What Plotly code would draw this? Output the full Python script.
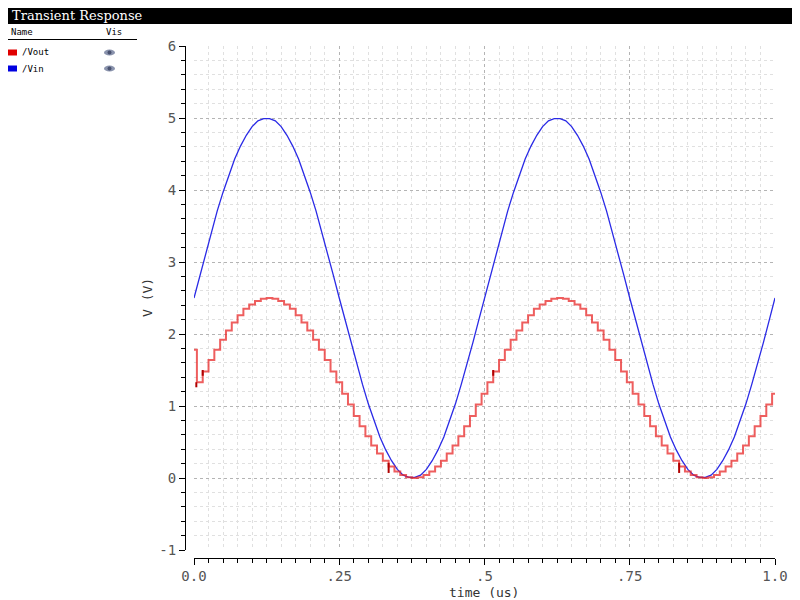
import plotly.graph_objects as go

# The page body has an 8px margin, so the figure is 8px smaller and all
# pixel positions below are converted with that offset.
OFF = 8
W, H = 800 - OFF, 600 - OFF

# ---- data ----
vin_t = [round(0.01 * k, 2) for k in range(101)]
vin_v = [2.50, 2.81, 3.12, 3.42, 3.71, 3.97, 4.21, 4.43, 4.61, 4.76,
         4.88, 4.96, 4.99, 4.99, 4.96, 4.88, 4.76, 4.61, 4.43, 4.21,
         3.97, 3.71, 3.42, 3.12, 2.81, 2.50, 2.19, 1.88, 1.58, 1.30,
         1.03, 0.79, 0.57, 0.39, 0.24, 0.12, 0.04, 0.01, 0.01, 0.04,
         0.12, 0.24, 0.39, 0.57, 0.79, 1.03, 1.30, 1.58, 1.88, 2.19,
         2.50, 2.81, 3.12, 3.42, 3.71, 3.97, 4.21, 4.43, 4.61, 4.76,
         4.88, 4.96, 4.99, 4.99, 4.96, 4.88, 4.76, 4.61, 4.43, 4.21,
         3.97, 3.71, 3.42, 3.12, 2.81, 2.50, 2.19, 1.88, 1.58, 1.30,
         1.03, 0.79, 0.57, 0.39, 0.24, 0.12, 0.04, 0.01, 0.01, 0.04,
         0.12, 0.24, 0.39, 0.57, 0.79, 1.03, 1.30, 1.58, 1.88, 2.19,
         2.50]

vout_start_t = 0.0
vout_start_v = 1.78
vout_t = [round(0.005 + 0.01 * k, 3) for k in range(100)]
vout_v = [1.33, 1.48, 1.64, 1.78, 1.92, 2.05, 2.16, 2.26, 2.35, 2.41,
          2.46, 2.49, 2.50, 2.49, 2.46, 2.41, 2.35, 2.26, 2.16, 2.05,
          1.92, 1.78, 1.64, 1.48, 1.33, 1.17, 1.02, 0.86, 0.72, 0.58,
          0.45, 0.34, 0.24, 0.16, 0.09, 0.04, 0.01, 0.00, 0.01, 0.04,
          0.09, 0.16, 0.24, 0.34, 0.45, 0.58, 0.72, 0.86, 1.02, 1.17,
          1.33, 1.48, 1.64, 1.78, 1.92, 2.05, 2.16, 2.26, 2.35, 2.41,
          2.46, 2.49, 2.50, 2.49, 2.46, 2.41, 2.35, 2.26, 2.16, 2.05,
          1.92, 1.78, 1.64, 1.48, 1.33, 1.17, 1.02, 0.86, 0.72, 0.58,
          0.45, 0.34, 0.24, 0.16, 0.09, 0.04, 0.01, 0.00, 0.01, 0.04,
          0.09, 0.16, 0.24, 0.34, 0.45, 0.58, 0.72, 0.86, 1.02, 1.17]
vout_end_t = 1.0

glitch_t = [0.004, 0.015, 0.335, 0.515, 0.835]
glitch_lo = [1.26, 1.42, 0.07, 1.42, 0.07]
glitch_hi = [1.33, 1.50, 0.21, 1.50, 0.21]

x_tickvals = [0, 0.25, 0.5, 0.75, 1.0]
x_ticktext = ["0.0", ".25", ".5", ".75", "1.0"]
y_tickvals = [-1, 0, 1, 2, 3, 4, 5, 6]
y_ticktext = ["-1", "0", "1", "2", "3", "4", "5", "6"]

legend_names = ["/Vout", "/Vin"]
legend_colors = ["#e00000", "#0000e0"]

# ---- helpers (page pixels -> paper fractions) ----
def px(x):
    return (x - OFF) / W

def py(y):
    return 1 - (y - OFF) / H

X0, X1 = 194, 775
Y0, Y1 = 46, 550

fig = go.Figure()

fig.add_trace(go.Scatter(
    x=vin_t, y=vin_v, mode="lines",
    line=dict(color="#2a2ae6", width=1.3), hoverinfo="skip", showlegend=False))

fig.add_trace(go.Scatter(
    x=[vout_start_t] + vout_t + [vout_end_t],
    y=[vout_start_v] + vout_v + [vout_v[-1]],
    mode="lines", line=dict(color="rgba(232,40,40,0.75)", width=2, shape="hv"),
    hoverinfo="skip", showlegend=False))

gx, gy = [], []
for t, lo, hi in zip(glitch_t, glitch_lo, glitch_hi):
    gx += [t, t, None]
    gy += [lo, hi, None]
fig.add_trace(go.Scatter(x=gx, y=gy, mode="lines",
                         line=dict(color="#b00000", width=2),
                         hoverinfo="skip", showlegend=False))

tickfont = dict(family="DejaVu Sans Mono", size=14, color="#555555")

fig.update_layout(
    template="none",
    width=W, height=H,
    margin=dict(l=0, r=0, t=0, b=0, pad=0, autoexpand=False),
    paper_bgcolor="white", plot_bgcolor="white",
    showlegend=False,
    xaxis=dict(
        domain=[px(X0), px(X1)], range=[0, 1], anchor="free",
        position=py(557.5), automargin=False,
        showline=True, linecolor="black", linewidth=1,
        tickmode="array", tickvals=x_tickvals, ticktext=x_ticktext,
        ticks="outside", ticklen=6, tickcolor="black", tickwidth=1,
        tickfont=tickfont,
        showgrid=True, gridcolor="#b4b4b4", griddash="dot", gridwidth=1,
        zeroline=False,
        minor=dict(tickmode="linear", tick0=0, dtick=0.025, ticks="outside",
                   ticklen=4, tickcolor="black", showgrid=True,
                   gridcolor="#e0e0e0", griddash="dot", gridwidth=1),
    ),
    yaxis=dict(
        domain=[py(Y1), py(Y0)], range=[-1, 6], anchor="free",
        position=px(185), automargin=False,
        showline=True, linecolor="black", linewidth=1,
        tickmode="array", tickvals=y_tickvals, ticktext=y_ticktext,
        ticks="outside", ticklen=6, tickcolor="black", tickwidth=1,
        tickfont=tickfont,
        showgrid=True, gridcolor="#b4b4b4", griddash="dot", gridwidth=1,
        zeroline=False,
        minor=dict(tickmode="linear", tick0=0, dtick=0.2, ticks="outside",
                   ticklen=4, tickcolor="black", showgrid=True,
                   gridcolor="#e0e0e0", griddash="dot", gridwidth=1),
    ),
)

shapes = []
annotations = []

# title bar
shapes.append(dict(type="rect", xref="paper", yref="paper",
                   x0=0, x1=1, y0=py(24), y1=1,
                   fillcolor="black", line=dict(width=0), layer="above"))
annotations.append(dict(text="Transient Response", xref="paper", yref="paper",
                        x=px(10), y=py(16), xanchor="left", yanchor="middle",
                        showarrow=False,
                        font=dict(family="DejaVu Serif", size=13, color="white")))

# legend header
small = dict(family="DejaVu Sans Mono", size=9, color="black")
annotations.append(dict(text="Name", xref="paper", yref="paper", x=px(9), y=py(32),
                        xanchor="left", yanchor="middle", showarrow=False, font=small))
annotations.append(dict(text="Vis", xref="paper", yref="paper", x=px(104), y=py(32),
                        xanchor="left", yanchor="middle", showarrow=False, font=small))
shapes.append(dict(type="line", xref="paper", yref="paper",
                   x0=0, x1=px(137), y0=py(39.5), y1=py(39.5),
                   line=dict(color="black", width=1)))

for i, (name, col) in enumerate(zip(legend_names, legend_colors)):
    yc = 52.5 + 16 * i
    shapes.append(dict(type="rect", xref="paper", yref="paper",
                       x0=px(8), x1=px(17), y0=py(yc + 3), y1=py(yc - 3),
                       fillcolor=col, line=dict(width=0)))
    annotations.append(dict(text=name, xref="paper", yref="paper", x=px(20), y=py(yc),
                            xanchor="left", yanchor="middle", showarrow=False, font=small))
    shapes.append(dict(type="circle", xref="paper", yref="paper",
                       x0=px(104), x1=px(115), y0=py(yc + 3), y1=py(yc - 3),
                       fillcolor="#8a93ad", line=dict(width=0)))
    shapes.append(dict(type="circle", xref="paper", yref="paper",
                       x0=px(107.5), x1=px(111.5), y0=py(yc + 2), y1=py(yc - 2),
                       fillcolor="#4a5270", line=dict(width=0)))

# axis titles
axfont = dict(family="DejaVu Sans Mono", size=13, color="#333333")
annotations.append(dict(text="time (us)", xref="paper", yref="paper",
                        x=px(484), y=py(592), xanchor="center", yanchor="middle",
                        showarrow=False, font=axfont))
annotations.append(dict(text="V (V)", xref="paper", yref="paper",
                        x=px(147), y=py(298), xanchor="center", yanchor="middle",
                        showarrow=False, textangle=-90, font=axfont))

fig.update_layout(shapes=shapes, annotations=annotations)

fig.write_html("out.html")
